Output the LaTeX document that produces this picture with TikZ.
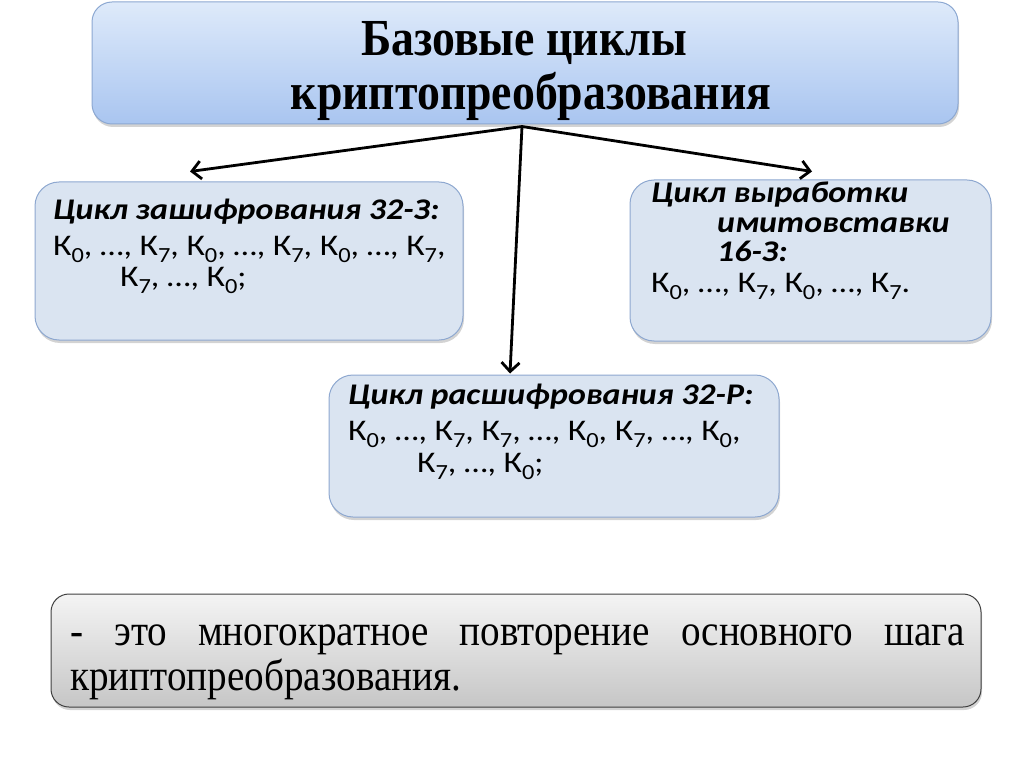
\documentclass[tikz,border=0pt]{standalone}
\usepackage{fontspec}
\setmainfont{Liberation Serif}
\newfontfamily\titlefont[FakeStretch=0.88]{Liberation Serif}
\newfontfamily\notefont[FakeStretch=0.89]{Liberation Serif}
\newfontfamily\boxfont[FakeStretch=1.13]{Carlito}
\usetikzlibrary{arrows.meta,shadows,calc}
\definecolor{topA}{HTML}{DEEAFA}
\definecolor{topB}{HTML}{A9C5F0}
\definecolor{topedge}{HTML}{8CA8D2}
\definecolor{cyclefill}{HTML}{DAE4F1}
\definecolor{cycleedge}{HTML}{8EA8D0}
\definecolor{noteA}{HTML}{F4F4F4}
\definecolor{noteB}{HTML}{C6C6C6}
\newcommand\kk[1]{К\raisebox{-0.25em}{\scalebox{0.72}{#1}}}
\tikzset{
  topbox/.style={draw=topedge, line width=1pt, rounded corners=20pt, top color=topA, bottom color=topB,
    inner sep=0pt, drop shadow={shadow xshift=1pt, shadow yshift=-3pt, opacity=0.35}},
  cyclebox/.style={draw=cycleedge, line width=1pt, rounded corners=24pt, fill=cyclefill,
    inner sep=0pt, drop shadow={shadow xshift=1pt, shadow yshift=-3pt, opacity=0.35}},
  notebox/.style={draw=black!75, line width=1pt, rounded corners=18pt, top color=noteA, bottom color=noteB,
    inner sep=0pt, drop shadow={shadow xshift=1pt, shadow yshift=-3pt, opacity=0.35}},
  titletext/.style={anchor=base, inner sep=0pt, font=\titlefont\bfseries\fontsize{52}{56}\selectfont},
  headtext/.style={anchor=base west, inner sep=0pt, font=\boxfont\bfseries\itshape\fontsize{30}{34}\selectfont},
  ktext/.style={anchor=base west, inner sep=0pt, font=\boxfont\fontsize{30}{34}\selectfont},
  notetext/.style={anchor=base west, inner sep=0pt, font=\notefont\fontsize{44}{48}\selectfont},
  arr/.style={line width=2.8pt, -{Straight Barb[length=9pt,width=18pt,line width=2.8pt]}}
}
\begin{document}
\begin{tikzpicture}[x=1pt,y=-1pt]
\useasboundingbox (0,0) rectangle (1024,767);
% boxes
\node[topbox, minimum width=866pt, minimum height=122pt] (top) at (525,63) {};
\node[cyclebox, minimum width=428pt, minimum height=158pt] (enc) at (249,261) {};
\node[cyclebox, minimum width=361pt, minimum height=161pt] (mac) at (810.5,260.5) {};
\node[cyclebox, minimum width=450pt, minimum height=142pt] (dec) at (554,446) {};
\node[notebox, minimum width=930pt, minimum height=113pt] (note) at (516,650.5) {};
% title
\node[titletext] (t1) at (524,56) {Базовые циклы};
\node[titletext] (t2) at (531,110) {криптопреобразования};
% arrows
\coordinate (hub) at ($(top.south)+(-3,2)$);
\draw[arr] (hub) -- ($(enc.north)+(-59,-10)$);
\draw[arr] (hub) -- ($(dec.north)+(-44,-1)$);
\draw[arr] (hub) -- ($(mac.north)+(1.5,-8)$);
% encryption
\node[headtext] (e1) at (53,219) {Цикл зашифрования 32-З:};
\node[ktext] (e2) at (53,255) {\kk0, …, \kk7, \kk0, …, \kk7, \kk0, …, \kk7,};
\node[ktext] (e3) at (120,286) {\kk7, …, \kk0;};
% mac
\node[headtext] (m1) at (651,203) {Цикл выработки};
\node[headtext] (m2) at (717,233) {имитовставки};
\node[headtext] (m3) at (717,261) {16-З:};
\node[ktext] (m4) at (651,292) {\kk0, …, \kk7, \kk0, …, \kk7.};
% decryption
\node[headtext] (d1) at (348,404) {Цикл расшифрования 32-Р:};
\node[ktext] (d2) at (348,440) {\kk0, …, \kk7, \kk7, …, \kk0, \kk7, …, \kk0,};
\node[ktext] (d3) at (417,472) {\kk7, …, \kk0;};
% note
\node[notetext] (n1) at (70,645) {\makebox[895pt][s]{- это многократное повторение основного шага}};
\node[notetext] (n2) at (70,690) {криптопреобразования.};
\end{tikzpicture}
\end{document}
